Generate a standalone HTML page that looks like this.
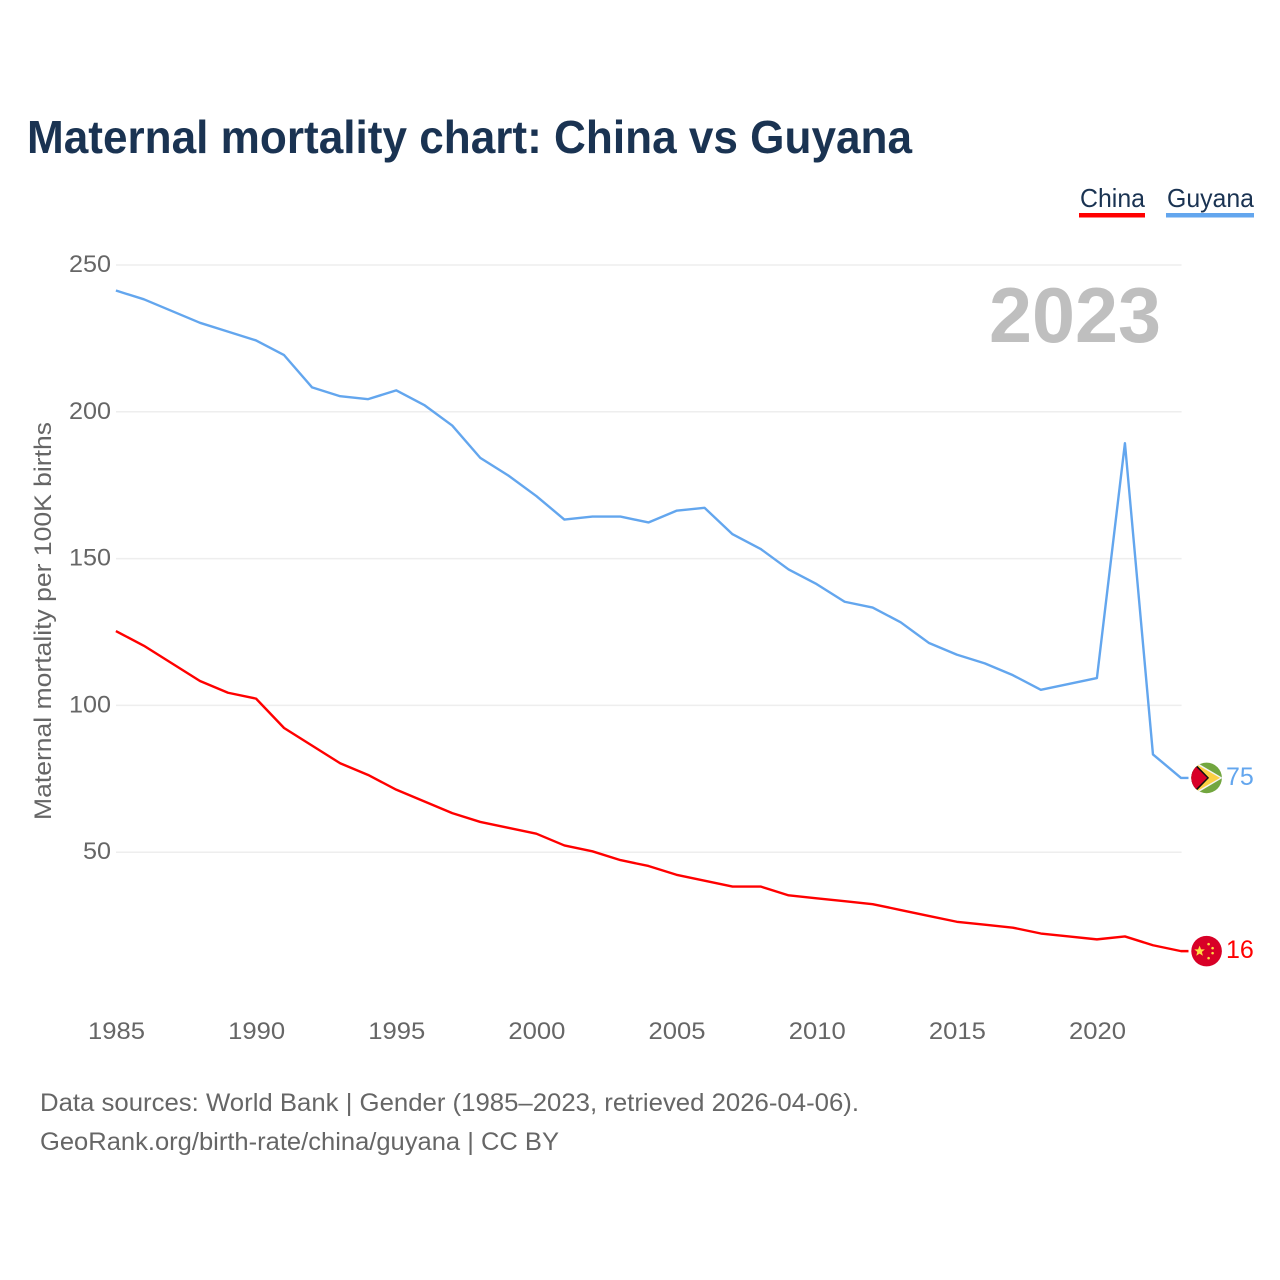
<!DOCTYPE html>
<html lang="en">
<head>
<meta charset="utf-8">
<title>Maternal mortality chart: China vs Guyana</title>
<style>
html,body{margin:0;padding:0;background:#fff;width:1280px;height:1280px;overflow:hidden}
svg{display:block}
text{font-family:"Liberation Sans",sans-serif}
</style>
</head>
<body>
<svg id="chart" xmlns="http://www.w3.org/2000/svg" width="1280" height="1280" viewBox="0 0 1280 1280">
  <rect width="1280" height="1280" fill="#fff"/>
  <text x="27" y="153" font-size="46" font-weight="700" fill="#1a3352" textLength="885" lengthAdjust="spacingAndGlyphs">Maternal mortality chart: China vs Guyana</text>

  <g>
    <g>
      <text x="1080" y="207" font-size="26" fill="#1a3352" textLength="65" lengthAdjust="spacingAndGlyphs">China</text>
      <rect x="1079" y="213" width="66" height="4.5" fill="#ff0000"/>
    </g>
    <g>
      <text x="1167" y="207" font-size="26" fill="#1a3352" textLength="87" lengthAdjust="spacingAndGlyphs">Guyana</text>
      <rect x="1166" y="213" width="88" height="4.5" fill="#63a6ee"/>
    </g>
  </g>

  <g id="grid"></g>
  <g id="yticks"></g>
  <g id="xticks"></g>

  <text transform="translate(51,820) rotate(-90)" font-size="24" fill="#666" textLength="398" lengthAdjust="spacingAndGlyphs">Maternal mortality per 100K births</text>

  <text x="989" y="342" font-size="78" font-weight="700" fill="#bfbfbf" textLength="172" lengthAdjust="spacingAndGlyphs">2023</text>

  <g id="series"></g>

  <defs>
    <clipPath id="clip-guyana"><circle cx="0" cy="0" r="15.3"/></clipPath>
  </defs>

  <g id="flag-guyana">
    <g clip-path="url(#clip-guyana)">
      <rect x="-16" y="-16" width="32" height="32" fill="#72a63f"/>
      <polygon points="-16,-19 16,0 -16,19" fill="#f4f4f4"/>
      <polygon points="-16,-17 13.5,0 -16,17" fill="#fbd044"/>
      <polygon points="-16,-19 2.5,0 -16,19" fill="#111"/>
      <polygon points="-16,-16.5 0.5,0 -16,16.5" fill="#d80027"/>
    </g>
  </g>
  <g id="flag-china">
    <circle r="15.3" fill="#d80027"/>
    <polygon points="0,-5.5 1.5,-1.7 5.3,-1.7 2.3,0.8 3.3,4.6 0,2.5 -3.3,4.6 -2.3,0.8 -5.3,-1.7 -1.5,-1.7" transform="translate(-7,0)" fill="#ffda44"/>
    <circle cx="2" cy="-7" r="1.3" fill="#ffda44"/>
    <circle cx="6" cy="-3" r="1.3" fill="#ffda44"/>
    <circle cx="6" cy="2" r="1.3" fill="#ffda44"/>
    <circle cx="2" cy="7" r="1.3" fill="#ffda44"/>
  </g>

  <g id="end-labels"></g>

  <g>
    <text x="40" y="1111" font-size="25" fill="#666" textLength="819" lengthAdjust="spacingAndGlyphs">Data sources: World Bank | Gender (1985–2023, retrieved 2026-04-06).</text>
    <text x="40" y="1150" font-size="25" fill="#666" textLength="519" lengthAdjust="spacingAndGlyphs">GeoRank.org/birth-rate/china/guyana | CC BY</text>
  </g>
</svg>
<script>
const years = [1985,1986,1987,1988,1989,1990,1991,1992,1993,1994,1995,1996,1997,1998,1999,2000,2001,2002,2003,2004,2005,2006,2007,2008,2009,2010,2011,2012,2013,2014,2015,2016,2017,2018,2019,2020,2021,2022,2023];
const guyanaValues = [241,238,234,230,227,224,219,208,205,204,207,202,195,184,178,171,163,164,164,162,166,167,158,153,146,141,135,133,128,121,117,114,110,105,107,109,189,83,75];
const chinaValues = [125,120,114,108,104,102,92,86,80,76,71,67,63,60,58,56,52,50,47,45,42,40,38,38,35,34,33,32,30,28,26,25,24,22,21,20,21,18,16];
const yTickValues = [50,100,150,200,250];
const xTickValues = [1985,1990,1995,2000,2005,2010,2015,2020];

const NS = 'http://www.w3.org/2000/svg';
const xScale = function (year) { return 116.5 + (year - 1985) * (1097.5 - 116.5) / 35; };
const yScale = function (value) { return 999 - value * (999 - 265) / 250; };
const make = function (tag, parent) {
  const el = document.createElementNS(NS, tag);
  parent.appendChild(el);
  return el;
};

const grid = document.getElementById('grid');
const yticks = document.getElementById('yticks');
yTickValues.forEach(function (v) {
  const line = make('line', grid);
  
  
  line.setAttribute('x1', 116);
  line.setAttribute('x2', xScale(2023));
  line.setAttribute('y1', yScale(v));
  line.setAttribute('y2', yScale(v));
  line.setAttribute('stroke', '#eeeeee');
  line.setAttribute('stroke-width', '1.5');
  const label = make('text', yticks);
  
  
  label.setAttribute('x', 111 - 14 * String(v).length);
  label.setAttribute('y', yScale(v) + 7);
  label.setAttribute('font-size', '24');
  label.setAttribute('fill', '#666');
  label.setAttribute('textLength', String(14 * String(v).length));
  label.setAttribute('lengthAdjust', 'spacingAndGlyphs');
  label.textContent = String(v);
});

const xticks = document.getElementById('xticks');
xTickValues.forEach(function (y) {
  const label = make('text', xticks);
  
  
  label.setAttribute('x', xScale(y));
  label.setAttribute('y', 1039);
  label.setAttribute('text-anchor', 'middle');
  label.setAttribute('font-size', '24');
  label.setAttribute('fill', '#666');
  label.setAttribute('textLength', '57');
  label.setAttribute('lengthAdjust', 'spacingAndGlyphs');
  label.textContent = String(y);
});

const seriesGroup = document.getElementById('series');
const endLabels = document.getElementById('end-labels');
const drawSeries = function (name, values, color) {
  const last = values[values.length - 1];
  const lineX = function (year) { return xScale(year) - 0.6; };
  const lineY = function (value) { return yScale(value) - 0.9; };
  const pts = values.map(function (v, i) { return lineX(years[i]).toFixed(2) + ',' + lineY(v).toFixed(2); });
  pts.push((lineX(years[years.length - 1]) + 7.5).toFixed(2) + ',' + lineY(last).toFixed(2));
  const line = make('polyline', seriesGroup);
  
  
  line.setAttribute('points', pts.join(' '));
  line.setAttribute('fill', 'none');
  line.setAttribute('stroke', color);
  line.setAttribute('stroke-width', '2.4');
  line.setAttribute('stroke-linejoin', 'round');
  const label = make('text', endLabels);
  
  
  label.setAttribute('x', 1226);
  label.setAttribute('y', lineY(last) + 7);
  label.setAttribute('font-size', '25');
  label.setAttribute('fill', color);
  label.textContent = String(last);
  const cx = xScale(years[years.length - 1]) + 25;
  const transform = 'translate(' + cx + ',' + lineY(last) + ')';
  document.getElementById('flag-' + name).setAttribute('transform', transform);
};
drawSeries('guyana', guyanaValues, '#63a6ee');
drawSeries('china', chinaValues, '#ff0000');
</script>
</body>
</html>
